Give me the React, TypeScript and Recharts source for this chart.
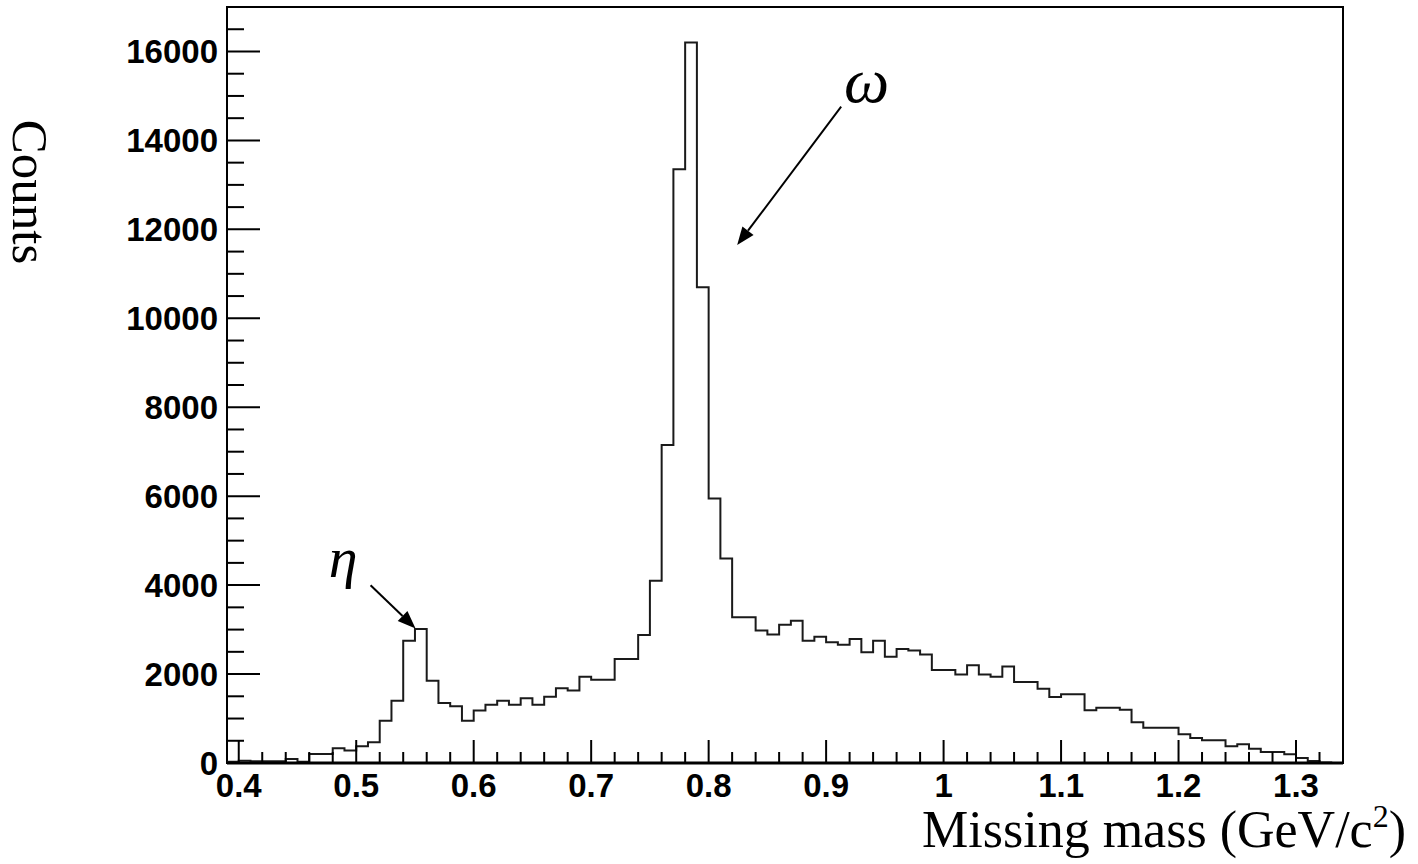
import {
  ComposedChart,
  Line,
  XAxis,
  YAxis,
  ReferenceArea,
  ReferenceLine,
  ReferenceDot,
} from "recharts";

// histogram: 0.01 GeV bins starting at 0.39
const binStart = 0.39;
const binEnd = 1.34;
const counts = [
  30, 50, 40, 40, 40, 90, 30, 200, 200, 330,
  280, 375, 465, 950, 1400, 2750, 3015, 1850, 1350, 1275,
  950, 1180, 1310, 1400, 1310, 1455, 1310, 1490, 1680, 1630,
  1940, 1870, 1870, 2340, 2340, 2880, 4100, 7150, 13350, 16200,
  10700, 5950, 4600, 3280, 3280, 2980, 2890, 3110, 3200, 2750,
  2840, 2715, 2660, 2790, 2490, 2750, 2390, 2565, 2530, 2440,
  2090, 2090, 1990, 2200, 1990, 1940, 2170, 1820, 1820, 1670,
  1485, 1545, 1545, 1185, 1240, 1240, 1200, 915, 790, 790,
  790, 645, 560, 510, 510, 375, 420, 320, 250, 250,
  195, 110, 45, 10, 0,
];

const yMajorTicks = [0, 2000, 4000, 6000, 8000, 10000, 12000, 14000, 16000];
const yTicks = Array.from({ length: 34 }, (_, i) => i * 500);
const xTicks = Array.from({ length: 47 }, (_, i) => Math.round(40 + i * 2) / 100);

const rows = [
  ...counts.map((c, i) => ({ x: Math.round((binStart + i * 0.01) * 100) / 100, y: c })),
  { x: binEnd, y: counts[counts.length - 1] },
];

const W = 1418;
const H = 864;
const LEFT = 227;
const RIGHT = 1343;
const TOP = 7;
const BOTTOM = 763;
const AXIS_W = 20;

const tickFont = {
  fontFamily: "'Liberation Sans', Arial, sans-serif",
  fontWeight: 700,
  fontSize: 33,
  fill: "#000",
};

function YTick(props: any) {
  const { y, payload } = props;
  const v = payload.value;
  const major = yMajorTicks.includes(v);
  return (
    <g>
      <line x1={LEFT} x2={LEFT + (major ? 33 : 17)} y1={y} y2={y} stroke="#000" strokeWidth={2} />
      {major && (
        <text x={218} y={y + 12} textAnchor="end" {...tickFont}>
          {v}
        </text>
      )}
    </g>
  );
}

function XTick(props: any) {
  const { x, payload } = props;
  const v = payload.value;
  const major = Math.round(v * 100) % 10 === 0;
  return (
    <g>
      <line x1={x} x2={x} y1={BOTTOM} y2={BOTTOM - (major ? 23 : 11)} stroke="#000" strokeWidth={2} />
      {major && (
        <text x={x} y={797} textAnchor="middle" {...tickFont}>
          {String(Math.round(v * 10) / 10)}
        </text>
      )}
    </g>
  );
}

function Arrow(props: any) {
  const { x1, y1, x2, y2 } = props;
  const a = Math.atan2(y2 - y1, x2 - x1);
  const len = 18;
  const half = 7;
  const bx = x2 - len * Math.cos(a);
  const by = y2 - len * Math.sin(a);
  const px = -Math.sin(a) * half;
  const py = Math.cos(a) * half;
  return (
    <g>
      <line x1={x1} y1={y1} x2={bx} y2={by} stroke="#000" strokeWidth={2} />
      <polygon points={`${x2},${y2} ${bx + px},${by + py} ${bx - px},${by - py}`} fill="#000" />
    </g>
  );
}

function greek(ch: string, size: number) {
  return (props: any) => (
    <text
      x={props.cx}
      y={props.cy}
      textAnchor="middle"
      fontFamily="'Liberation Serif', 'Times New Roman', serif"
      fontStyle="italic"
      fontSize={size}
      fill="#000"
    >
      {ch}
    </text>
  );
}

export default function App() {
  return (
    <div style={{ position: "absolute", left: 0, top: 0, width: W, height: H, background: "#fff" }}>
      <ComposedChart
        width={W}
        height={H}
        data={rows}
        margin={{ top: TOP, right: W - RIGHT, bottom: H - BOTTOM - AXIS_W, left: LEFT - AXIS_W }}
      >
        <XAxis
          type="number"
          dataKey="x"
          domain={[binStart, binEnd]}
          ticks={xTicks}
          interval={0}
          height={AXIS_W}
          axisLine={false}
          tickLine={false}
          tick={XTick}
          allowDataOverflow
        />
        <YAxis
          type="number"
          domain={[0, 17000]}
          ticks={yTicks}
          interval={0}
          width={AXIS_W}
          axisLine={false}
          tickLine={false}
          tick={YTick}
          allowDataOverflow
        />
        <Line
          type="stepAfter"
          dataKey="y"
          stroke="#1a1a1a"
          strokeWidth={2}
          dot={false}
          activeDot={false}
          isAnimationActive={false}
        />
        <ReferenceArea
          x1={binStart}
          x2={binEnd}
          y1={0}
          y2={17000}
          fill="none"
          stroke="#000"
          strokeWidth={2}
          ifOverflow="visible"
        />
        <ReferenceLine y={0} stroke="#000" strokeWidth={3} />
        <ReferenceLine
          segment={[
            { x: 0.9128, y: 14760 },
            { x: 0.8243, y: 11646 },
          ]}
          shape={Arrow}
          ifOverflow="visible"
        />
        <ReferenceLine
          segment={[
            { x: 0.5122, y: 3998 },
            { x: 0.5505, y: 3024 },
          ]}
          shape={Arrow}
          ifOverflow="visible"
        />
        <ReferenceDot x={0.9345} y={14860} shape={greek("ω", 64)} ifOverflow="visible" />
        <ReferenceDot x={0.4888} y={4190} shape={greek("η", 58)} ifOverflow="visible" />
      </ComposedChart>
      <svg
        width={W}
        height={H}
        style={{ position: "absolute", left: 0, top: 0, pointerEvents: "none" }}
      >
        <text
          transform="translate(13,192) rotate(90)"
          textAnchor="middle"
          fontFamily="'Liberation Serif', 'Times New Roman', serif"
          fontSize={51}
          fill="#000"
        >
          Counts
        </text>
        <text
          x={1406}
          y={847}
          textAnchor="end"
          fontFamily="'Liberation Serif', 'Times New Roman', serif"
          fontSize={52}
          fill="#000"
        >
          Missing mass (GeV/c
          <tspan fontSize={32} dy={-20}>2</tspan>
          <tspan dy={20}>)</tspan>
        </text>
      </svg>
    </div>
  );
}
